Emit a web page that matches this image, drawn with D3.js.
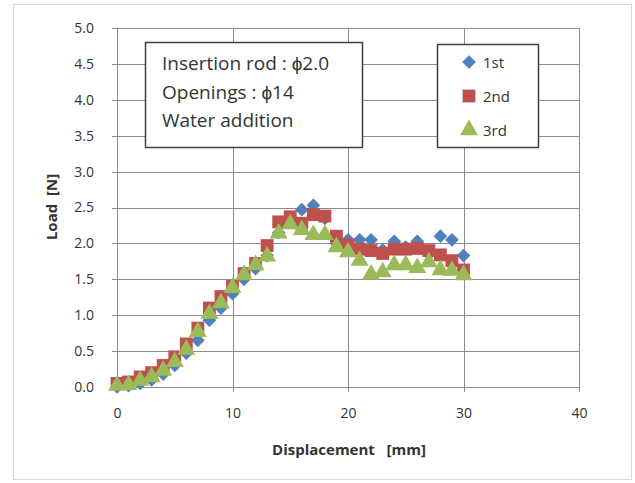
<!DOCTYPE html>
<html><head><meta charset="utf-8">
<script src="https://cdn.jsdelivr.net/npm/d3@7"></script>
<style>body{margin:0;background:#fff}svg{display:block}text{white-space:pre}</style>
</head><body>
<svg id="c" width="635" height="483"></svg>
<script>
const displacement = [0,1,2,3,4,5,6,7,8,9,10,11,12,13,14,15,16,17,18,19,20,21,22,23,24,25,26,27,28,29,30];
const load1st = [0.00,0.02,0.05,0.10,0.18,0.30,0.47,0.65,0.93,1.10,1.30,1.50,1.65,1.83,2.15,2.30,2.47,2.53,2.35,2.00,2.05,2.05,2.05,1.91,2.03,1.95,2.03,1.85,2.10,2.05,1.83];
const load2nd = [0.05,0.07,0.14,0.20,0.30,0.42,0.60,0.82,1.10,1.26,1.40,1.58,1.72,1.97,2.30,2.37,2.28,2.40,2.38,2.10,1.98,1.92,1.90,1.86,1.92,1.92,1.93,1.90,1.84,1.76,1.63];
const load3rd = [0.02,0.03,0.09,0.14,0.23,0.35,0.52,0.77,1.02,1.17,1.38,1.56,1.70,1.82,2.14,2.27,2.19,2.12,2.12,1.95,1.88,1.76,1.57,1.60,1.70,1.70,1.66,1.74,1.63,1.62,1.56];
const xTicks = [0,10,20,30,40];
const yTicks = [0,0.5,1,1.5,2,2.5,3,3.5,4,4.5,5];
const seriesNames = ["1st","2nd","3rd"];
const seriesColors = ["#4F81BD","#C0504D","#9BBB59"];
const noteLines = ["Insertion rod : \u03d52.0","Openings : \u03d514","Water addition"];

const svg = d3.select("#c");
const font = "'Open Sans', 'Liberation Sans', sans-serif";
svg.append("rect").attr("x",13.5).attr("y",4.5).attr("width",618).attr("height",475)
  .attr("fill","#fff").attr("stroke","#d9d9d9");

const x = d3.scaleLinear().domain([0,40]).range([117,579]);
const y = d3.scaleLinear().domain([0,5]).range([387,28]);
const gridCol = "#8c8c8c";

// grid
svg.append("g").selectAll("line").data(yTicks).join("line")
  .attr("x1",112).attr("x2",579).attr("y1",d=>Math.round(y(d))+0.5).attr("y2",d=>Math.round(y(d))+0.5)
  .attr("stroke",gridCol).attr("stroke-width",1);
svg.append("g").selectAll("line").data(xTicks).join("line")
  .attr("x1",d=>Math.round(x(d))+0.5).attr("x2",d=>Math.round(x(d))+0.5).attr("y1",28).attr("y2",392)
  .attr("stroke",gridCol).attr("stroke-width",1);

// axes labels
const yAxis = d3.axisLeft(y).tickValues(yTicks).tickFormat(d3.format(".1f")).tickSize(0).tickPadding(0);
const gy = svg.append("g").attr("transform","translate(94,0)").call(yAxis);
gy.select(".domain").remove();
gy.selectAll("text").attr("font-family",font).attr("font-size",14).attr("fill","#333");
const xAxis = d3.axisBottom(x).tickValues(xTicks).tickFormat(d3.format("d")).tickSize(0).tickPadding(0);
const gx = svg.append("g").attr("transform","translate(0,408)").call(xAxis);
gx.select(".domain").remove();
gx.selectAll("text").attr("font-family",font).attr("font-size",14).attr("fill","#333");

svg.append("text").attr("transform","translate(57,207) rotate(-90)").attr("text-anchor","middle")
  .attr("font-family",font).attr("font-size",15).attr("font-weight","bold").attr("fill","#333")
  .text("Load  [N]");
svg.append("text").attr("x",349).attr("y",455).attr("text-anchor","middle")
  .attr("font-family",font).attr("font-size",15).attr("font-weight","bold").attr("fill","#333")
  .text("Displacement   [mm]");

// markers
const sym = [d3.symbol().type(d3.symbolDiamond2).size(120),
             d3.symbol().type(d3.symbolSquare).size(165),
             d3.symbol().type(d3.symbolTriangle).size(140)];
const allSeries = [load1st, load2nd, load3rd];
allSeries.forEach((vals,i)=>{
  svg.append("g").selectAll("path").data(vals).join("path")
    .attr("d",sym[i]())
    .attr("transform",(d,j)=>`translate(${x(displacement[j])},${y(d)})`)
    .attr("fill",seriesColors[i]);
});

// note box
svg.append("rect").attr("x",145.5).attr("y",42.5).attr("width",217).attr("height",105)
  .attr("fill","#fff").attr("stroke","#404040").attr("stroke-width",1.5);
svg.append("g").selectAll("text").data(noteLines).join("text")
  .attr("x",162).attr("y",(d,i)=>70+i*28.5)
  .attr("font-family",font).attr("font-size",19).attr("fill","#333").text(d=>d);

// legend
svg.append("rect").attr("x",437.5).attr("y",44.5).attr("width",101).attr("height",103)
  .attr("fill","#fff").attr("stroke","#404040").attr("stroke-width",1.5);
const lg = svg.append("g");
seriesNames.forEach((n,i)=>{
  const cy = 62 + i*34;
  lg.append("path").attr("d",sym[i]()).attr("transform",`translate(469,${cy})`).attr("fill",seriesColors[i]);
  lg.append("text").attr("x",483).attr("y",cy+5.5).attr("font-family",font).attr("font-size",15)
    .attr("fill","#333").text(n);
});
</script>
</body></html>
